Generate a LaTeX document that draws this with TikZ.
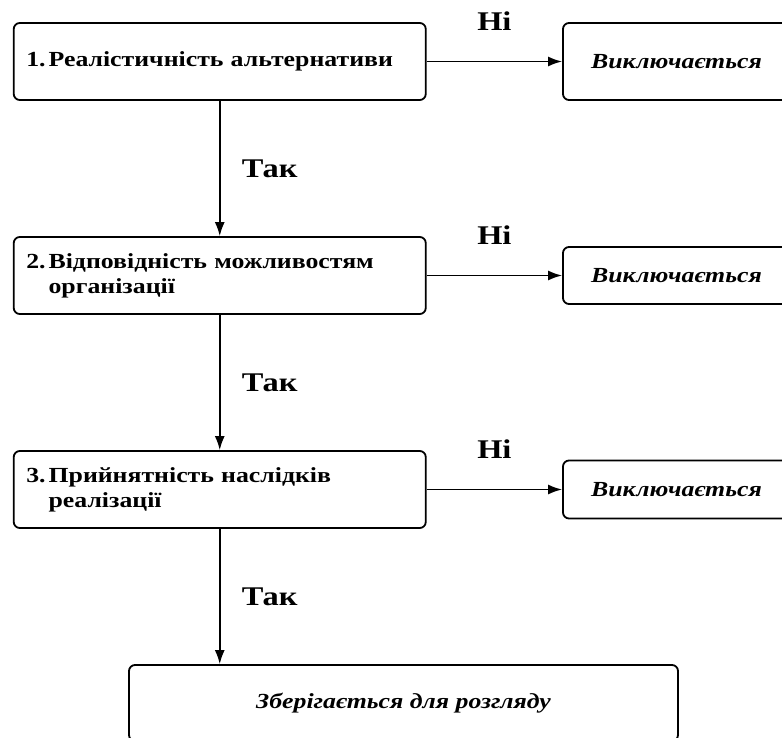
\documentclass[tikz,border=0pt]{standalone}
\usepackage{fontspec}
\setmainfont[FakeStretch=1.2]{Liberation Serif}
\usetikzlibrary{positioning,arrows.meta}

\newcommand{\cislo}[1]{#1.\hspace{3pt}}

\tikzset{
  krok/.style={draw, line width=1.8pt, rounded corners=6pt, align=left,
    text width=387pt, inner xsep=12.5pt, minimum height=77pt,
    font=\fontsize{21.5}{25}\selectfont\bfseries},
  vysl/.style={draw, line width=1.8pt, rounded corners=6pt, align=center,
    font=\fontsize{21.5}{25}\selectfont\bfseries\itshape},
  sipka/.style={line width=1.6pt, -{Latex[length=14pt,width=10pt]}},
  popis/.style={font=\fontsize{27}{30}\selectfont\bfseries}
}

\begin{document}
\begin{tikzpicture}[x=1pt, y=-1pt]

  \useasboundingbox (0,0) rectangle (782,738);

  % Kroky hodnocení
  \node[krok] (k1) at (219.75,61.5) {\cislo{1}Реалістичність альтернативи};
  \node[krok] (k2) at (219.75,275.5) {\cislo{2}Відповідність можливостям\\\phantom{\cislo{2}}організації};
  \node[krok] (k3) at (219.75,489.5) {\cislo{3}Прийнятність наслідків\\\phantom{\cislo{3}}реалізації};

  % Výsledky
  \node[vysl, minimum width=227pt, minimum height=77pt] (v1) at (676.5,61.5) {Виключається};
  \node[vysl, minimum width=227pt, minimum height=57pt] (v2) at (676.5,275.5) {Виключається};
  \node[vysl, minimum width=227pt, minimum height=58pt] (v3) at (676.5,489.5) {Виключається};
  \node[vysl, minimum width=549pt, minimum height=76pt] (z) at (403.5,703) {Зберігається для розгляду};

  % Šipky dolů
  \draw[sipka] (k1) -- node[popis, midway, right=18pt] {Так} (k2);
  \draw[sipka] (k2) -- node[popis, midway, right=18pt] {Так} (k3);
  \draw[sipka] (k3.south) -- node[popis, midway, right=18pt] {Так} (k3.south |- z.north);

  % Šipky doprava
  \draw[sipka] (k1) -- node[popis, midway, yshift=40pt] {Ні} (v1);
  \draw[sipka] (k2) -- node[popis, midway, yshift=40pt] {Ні} (v2);
  \draw[sipka] (k3) -- node[popis, midway, yshift=40pt] {Ні} (v3);

\end{tikzpicture}
\end{document}
